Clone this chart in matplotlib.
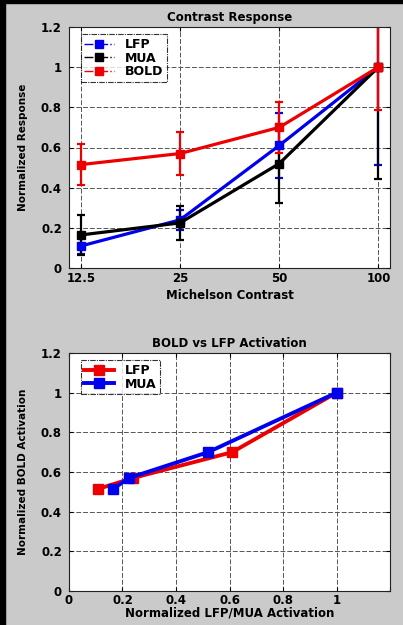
import matplotlib
matplotlib.use("Agg")
import matplotlib.pyplot as plt
from matplotlib.lines import Line2D
from matplotlib.patches import Rectangle

plt.rcParams['font.family'] = ['DejaVu Sans']
plt.rcParams['font.weight'] = 'bold'

# ---- data ----
contrast = [12.5, 25, 50, 100]
contrast_labels = ['12.5', '25', '50', '100']
lfp = [0.11, 0.24, 0.61, 1.0]
lfp_err = [0.04, 0.05, 0.16, 0.485]
mua = [0.165, 0.225, 0.52, 1.0]
mua_err = [0.10, 0.085, 0.195, 0.555]
bold = [0.515, 0.57, 0.70, 1.0]
bold_err = [0.10, 0.105, 0.125, 0.215]
series_names = ['LFP', 'MUA', 'BOLD']
yticks = [0, 0.2, 0.4, 0.6, 0.8, 1.0]
yticklabels = ['0', '0.2', '0.4', '0.6', '0.8', '1', '1.2']
xticks2 = [0, 0.2, 0.4, 0.6, 0.8, 1.0]
xticklabels2 = ['0', '0.2', '0.4', '0.6', '0.8', '1']

BG = '#cacaca'
BLUE = '#0000ee'
RED = '#ee0000'
BLACK = '#000000'

fig = plt.figure(figsize=(4.03, 6.25), dpi=100, facecolor=BG)
# dark frame strips
fig.patches.append(Rectangle((0, 0), 5 / 403, 1, transform=fig.transFigure, color='black', zorder=0))
fig.patches.append(Rectangle((0, 1 - 3 / 625), 1, 3 / 625, transform=fig.transFigure, color='black', zorder=0))

TICK_FS = 8.5
TITLE_FS = 8.5
YLAB_FS = 7.5


def style_axes(ax):
    ax.set_facecolor('white')
    for s in ax.spines.values():
        s.set_linewidth(0.8)
        s.set_linestyle((0, (5, 1, 1, 1)))
        s.set_color('#222222')
    ax.tick_params(direction='in', length=3, width=0.8, top=True, right=True,
                   labelsize=TICK_FS, pad=5, colors='black')
    ax.tick_params(axis='x', pad=3)
    ax.grid(True, color='#555555', linestyle=(0, (5, 2)), linewidth=0.7)
    ax.set_axisbelow(True)
    for lab in ax.get_xticklabels() + ax.get_yticklabels():
        lab.set_fontweight('bold')


# ---- plot 1 ----
ax1 = fig.add_axes([0.171, 0.571, 0.797, 0.386])
ax1.set_xscale('log', base=2)
for vals, errs, col in [(lfp, lfp_err, BLUE), (mua, mua_err, BLACK), (bold, bold_err, RED)]:
    ax1.errorbar(contrast, vals, yerr=errs, color=col, linewidth=2.3, marker='s',
                 markersize=6, capsize=3, elinewidth=1.6, capthick=1.6)
ax1.set_xlim(11.5, 108.5)
ax1.set_ylim(0, 1.2)
ax1.set_xticks(contrast)
ax1.set_xticklabels(contrast_labels)
ax1.minorticks_off()
ax1.set_yticks(yticks + [1.2])
ax1.set_yticklabels(yticklabels)
style_axes(ax1)
ax1.set_title('Contrast Response', fontsize=TITLE_FS, fontweight='bold', pad=4)
ax1.set_xlabel('Michelson Contrast', fontsize=TITLE_FS, fontweight='bold', labelpad=3)
ax1.set_ylabel('Normalized Response', fontsize=YLAB_FS, fontweight='bold', labelpad=9)
h1 = [Line2D([], [], color=c, linestyle='-.', linewidth=1.0, marker='s', markersize=6)
      for c in (BLUE, BLACK, RED)]
leg1 = ax1.legend(h1, series_names, loc='upper left', bbox_to_anchor=(0.025, 0.985),
                  frameon=True, fancybox=False, prop={'weight': 'bold', 'size': 9},
                  handlelength=2.4, borderpad=0.3, labelspacing=0.05, handletextpad=0.8,
                  borderaxespad=0.3)
leg1.get_frame().set_edgecolor('black')
leg1.get_frame().set_linestyle((0, (5, 1, 1, 1)))
leg1.get_frame().set_linewidth(0.8)

# ---- plot 2 ----
ax2 = fig.add_axes([0.171, 0.0544, 0.797, 0.3808])
ax2.plot(lfp, bold, color=RED, linewidth=2.8, marker='s', markersize=7.5,
         markerfacecolor=RED, markeredgecolor=RED, label='LFP')
ax2.plot(mua, bold, color=BLUE, linewidth=2.8, marker='s', markersize=7.5,
         markerfacecolor=BLUE, markeredgecolor=BLUE, label='MUA')
ax2.set_xlim(0, 1.2)
ax2.set_ylim(0, 1.2)
ax2.set_xticks(xticks2 + [1.2])
ax2.set_xticklabels(xticklabels2 + [''])
ax2.set_yticks(yticks + [1.2])
ax2.set_yticklabels(yticklabels)
style_axes(ax2)
ax2.tick_params(axis='x', pad=2)
ax2.set_title('BOLD vs LFP Activation', fontsize=TITLE_FS, fontweight='bold', pad=4)
ax2.set_xlabel('Normalized LFP/MUA Activation', fontsize=TITLE_FS, fontweight='bold', labelpad=0)
ax2.set_ylabel('Normalized BOLD Activation', fontsize=YLAB_FS, fontweight='bold', labelpad=9)
leg2 = ax2.legend(loc='upper left', bbox_to_anchor=(0.025, 0.985), frameon=True, fancybox=False,
                  prop={'weight': 'bold', 'size': 9}, handlelength=2.4, borderpad=0.3,
                  labelspacing=0.05, handletextpad=0.8, borderaxespad=0.3)
leg2.get_frame().set_edgecolor('black')
leg2.get_frame().set_linestyle((0, (5, 1, 1, 1)))
leg2.get_frame().set_linewidth(0.8)

fig.savefig('out.png', dpi=100, facecolor=BG)
